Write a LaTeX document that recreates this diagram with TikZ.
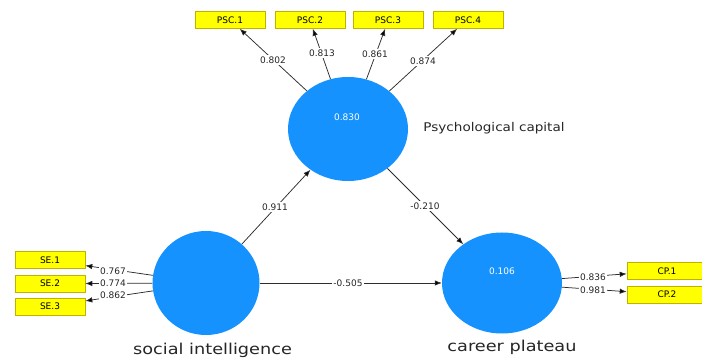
\documentclass[tikz,border=0pt]{standalone}
\usepackage{fontspec}
\setmainfont{DejaVu Sans}
\usetikzlibrary{arrows.meta,shapes.geometric}
\definecolor{lvblue}{RGB}{22,146,255}
\definecolor{boxyellow}{RGB}{255,255,0}
\definecolor{boxedge}{RGB}{190,180,0}
\definecolor{linegray}{RGB}{45,45,45}
\begin{document}
\begin{tikzpicture}[x=1pt,y=-1pt,
  latent/.style={ellipse, fill=lvblue, draw=none, inner sep=0pt},
  indic/.style={rectangle, fill=boxyellow, draw=boxedge, line width=0.6pt,
    minimum width=70pt, minimum height=17pt, inner sep=0pt,
    font=\fontsize{9}{10}\selectfont},
  conn/.style={draw=linegray, line width=0.75pt, -{Latex[length=7pt,width=5.5pt,fill=black]}},
  lbl/.style={fill=white, inner sep=1.5pt, font=\fontsize{9}{10}\selectfont, text=black!85},
  val/.style={inner sep=0pt, font=\fontsize{9}{10}\selectfont, text=white},
  big/.style={inner sep=0pt, text=black!85}
]
\useasboundingbox (0,0) rectangle (702,358);

% latent variables
\node[latent, minimum width=120pt, minimum height=104pt] (pc) at (348,129) {};
\node[latent, minimum width=107pt, minimum height=104pt] (si) at (206,283) {};
\node[latent, minimum width=120pt, minimum height=101pt] (cp) at (502,283) {};

% indicators
\node[indic] (psc1) at (230,20) {PSC.1};
\node[indic] (psc2) at (310,20) {PSC.2};
\node[indic] (psc3) at (388,20) {PSC.3};
\node[indic] (psc4) at (468,20) {PSC.4};
\node[indic] (se1) at (50,260) {SE.1};
\node[indic] (se2) at (50,283.5) {SE.2};
\node[indic] (se3) at (50,306.5) {SE.3};
\node[indic, minimum width=80pt] (cp1) at (667,271) {CP.1};
\node[indic, minimum width=80pt] (cp2) at (667,294.5) {CP.2};

% connectors
\draw[conn] (pc) -- (psc1.-42);
\draw[conn] (pc) -- (psc2.-72);
\draw[conn] (pc) -- (psc3.-108);
\draw[conn] (pc) -- (psc4.-141);
\draw[conn] (si) -- (se1.-9);
\draw[conn] (si) -- (se2.east);
\draw[conn] (si) -- (se3.9);
\draw[conn] (cp) -- (cp1.184);
\draw[conn] (cp) -- (cp2.176);
\draw[conn] (si) -- (pc);
\draw[conn] (pc) -- (cp);
\draw[conn] (si) -- (cp);

% path labels
\node[lbl] (l1) at (273,60) {0.802};
\node[lbl] (l2) at (322,53) {0.813};
\node[lbl] (l3) at (375,54) {0.861};
\node[lbl] (l4) at (423,61) {0.874};
\node[lbl] (l5) at (113,271) {0.767};
\node[lbl] (l6) at (113,283) {0.774};
\node[lbl] (l7) at (113,295) {0.862};
\node[lbl] (l8) at (593,277) {0.836};
\node[lbl] (l9) at (593,290) {0.981};
\node[lbl] (l10) at (275,207) {0.911};
\node[lbl] (l11) at (425,206) {-0.210};
\node[lbl] (l12) at (348,283) {-0.505};

% R2 values
\node[val] (pcv) at (347,117) {0.830};
\node[val] (cpv) at (502,271) {0.106};

% construct names
\node[big, font=\fontsize{12}{14}\selectfont] (pcn) at (494,128) {\scalebox{1.13}[1]{Psychological capital}};
\node[big, font=\fontsize{15}{18}\selectfont, anchor=base] (sin) at (212.5,354) {\scalebox{1.18}[1]{social intelligence}};
\node[big, font=\fontsize{15}{18}\selectfont, anchor=base] (cpn) at (512,352) {\scalebox{1.18}[1]{career plateau}};
\end{tikzpicture}
\end{document}
